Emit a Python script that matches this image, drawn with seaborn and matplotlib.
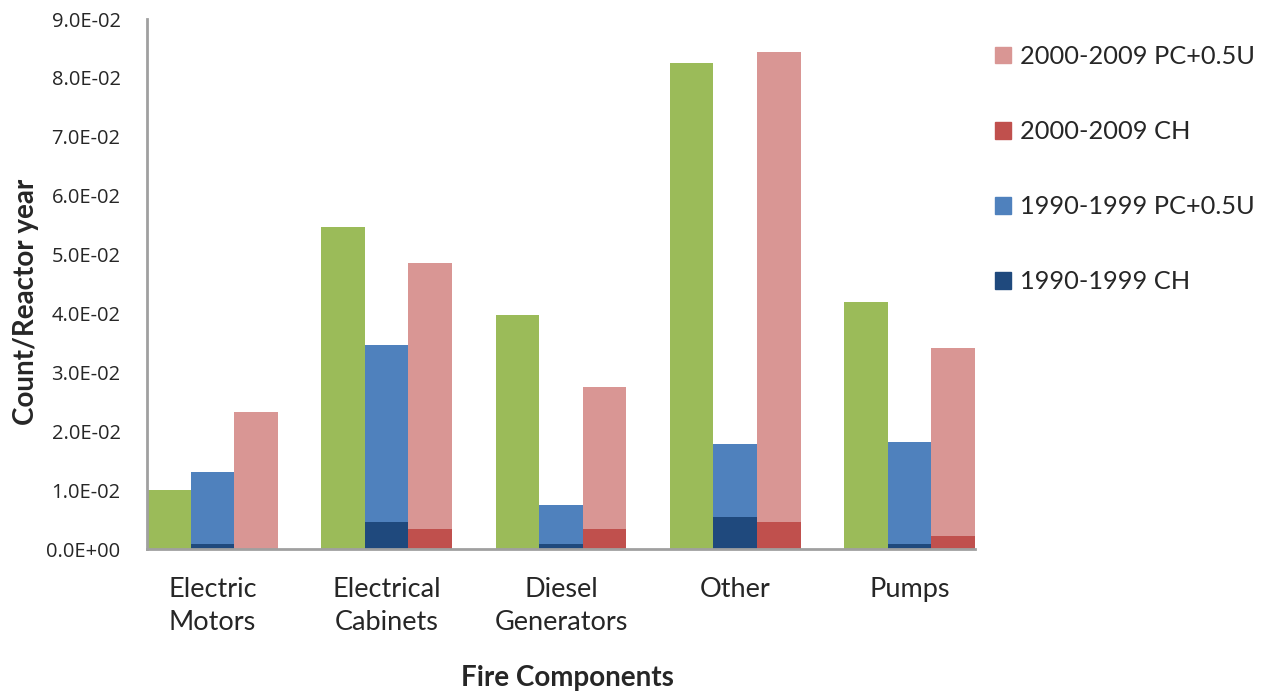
import numpy as np
import pandas as pd
import seaborn as sns
import matplotlib.pyplot as plt
from matplotlib.patches import Patch

# Data
components = ['Electric\nMotors', 'Electrical\nCabinets', 'Diesel\nGenerators', 'Other', 'Pumps']
green_vals = [0.0101, 0.0546, 0.0397, 0.0825, 0.0420]
pc_1990 = [0.0131, 0.0346, 0.0074, 0.0178, 0.0182]
ch_1990 = [0.0009, 0.0046, 0.0009, 0.0055, 0.0009]
pc_2000 = [0.0233, 0.0485, 0.0275, 0.0844, 0.0341]
ch_2000 = [0.0000, 0.0034, 0.0034, 0.0046, 0.0022]

C_GREEN = '#9BBB59'
C_BLUE = '#4F81BD'
C_DBLUE = '#1F497D'
C_PINK = '#D99694'
C_RED = '#C0504D'

sns.set_style("white")
plt.rcParams['font.family'] = ['Lato', 'DejaVu Sans']

hue_order = ['green', '1990', '2000']
top_df = pd.DataFrame({
    'component': components * 3,
    'series': ['green'] * 5 + ['1990'] * 5 + ['2000'] * 5,
    'value': green_vals + pc_1990 + pc_2000,
})
ch_df = pd.DataFrame({
    'component': components * 3,
    'series': ['green'] * 5 + ['1990'] * 5 + ['2000'] * 5,
    'value': [0.0] * 5 + ch_1990 + ch_2000,
})

fig = plt.figure(figsize=(12.66, 6.94), dpi=100)
ax = fig.add_axes([0.1161, 0.2089, 0.6540, 0.7637])

# tall bars first, then the CH bars drawn over their bottoms
sns.barplot(data=top_df, x='component', y='value', hue='series', hue_order=hue_order,
            palette={'green': C_GREEN, '1990': C_BLUE, '2000': C_PINK},
            width=0.75, gap=0, linewidth=0, saturation=1, errorbar=None, legend=False, ax=ax)
sns.barplot(data=ch_df, x='component', y='value', hue='series', hue_order=hue_order,
            palette={'green': C_GREEN, '1990': C_DBLUE, '2000': C_RED},
            width=0.75, gap=0, linewidth=0, saturation=1, errorbar=None, legend=False, ax=ax)

ax.set_xlim(-0.375, 4.375)
ax.set_ylim(0, 0.09)
ax.set_yticks(np.arange(0, 0.0901, 0.01))
ax.set_yticklabels([f'{v:.1E}' for v in np.arange(0, 0.0901, 0.01)], fontsize=14.5,
                   family=['Open Sans', 'DejaVu Sans'])
for lab in ax.get_xticklabels():
    lab.set_fontsize(19.5)
    lab.set_linespacing(1.4)
ax.tick_params(axis='x', length=0, pad=20)
ax.tick_params(axis='y', length=0, pad=19)

for side in ['top', 'right']:
    ax.spines[side].set_visible(False)
for side in ['left', 'bottom']:
    ax.spines[side].set_color('#A0A0A0')
    ax.spines[side].set_linewidth(2)

ax.set_xlabel('Fire Components', fontsize=20, fontweight='bold')
ax.set_ylabel('Count/Reactor year', fontsize=20, fontweight='bold')
ax.xaxis.set_label_coords(0.508, -0.218)
ax.yaxis.set_label_coords(-0.13, 0.466)

handles = [Patch(color=C_PINK), Patch(color=C_RED), Patch(color=C_BLUE), Patch(color=C_DBLUE)]
labels = ['2000-2009 PC+0.5U', '2000-2009 CH', '1990-1999 PC+0.5U', '1990-1999 CH']
fig.legend(handles, labels, loc='upper left', bbox_to_anchor=(0.768, 0.968), frameon=False,
           fontsize=18.3, handlelength=0.63, handleheight=0.63, handletextpad=0.35,
           labelspacing=2.05)

plt.savefig('out.png', dpi=100)
